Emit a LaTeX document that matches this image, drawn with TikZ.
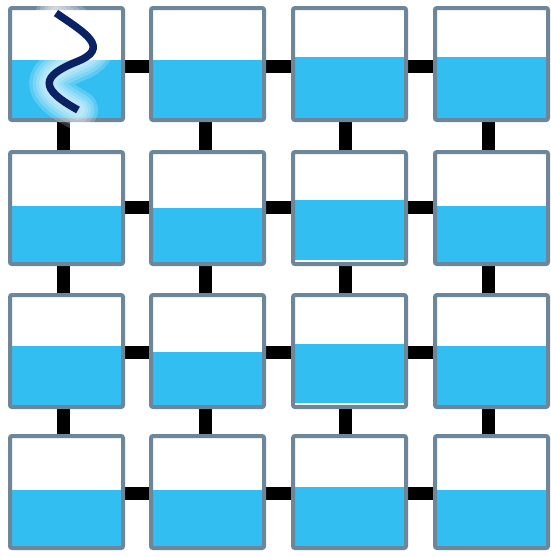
\documentclass[tikz,border=0pt]{standalone}
\usetikzlibrary{calc}
\definecolor{frame}{HTML}{6E869A}
\definecolor{water}{HTML}{33BEF2}
\definecolor{navy}{HTML}{0A2263}
\tikzset{
  tank/.style={draw=frame, line width=4pt, rounded corners=2pt, minimum width=113pt, minimum height=112pt, inner sep=0pt, fill=none},
  pipe/.style={line width=13pt, black},
  waterfill/.style={fill=water},
  glow/.style={white, line width=#1, opacity=0.2, line cap=round},
}
\begin{document}
\begin{tikzpicture}[x=1pt,y=-1pt]
\fill[white] (0,0) rectangle (550,557);
\useasboundingbox (0,0) rectangle (550,557);
% tank positions (image pixel coordinates, y downward)
\foreach \c/\x in {1/66.5,2/207.5,3/349.5,4/491.5}{
  \foreach \r/\y in {1/64,2/208,3/351,4/492}{
    \coordinate (p\r\c) at (\x,\y);
  }
}
% tanks as named nodes (borders drawn later)
\foreach \r in {1,2,3,4}{
  \foreach \c in {1,2,3,4}{
    \node[minimum width=113pt, minimum height=112pt, inner sep=0pt] (t\r\c) at (p\r\c) {};
  }
}
% horizontal pipes
\foreach \r/\dy in {1/2,2/-1,3/1,4/1}{
  \foreach \a/\b in {1/2,2/3,3/4}{
    \draw[pipe] ([yshift=-\dy pt]t\r\a.east) -- ([yshift=-\dy pt]t\r\b.west);
  }
}
% vertical pipes
\foreach \c/\dx in {1/-3.5,2/-2.5,3/-4.5,4/-3.5}{
  \foreach \a/\b in {1/2,2/3,3/4}{
    \draw[pipe] ([xshift=\dx pt]t\a\c.south) -- ([xshift=\dx pt]t\b\c.north);
  }
}
% water
\foreach \r/\c/\lvl in {1/1/60,1/2/60,1/3/57,1/4/57,
                        2/1/206,2/2/208,2/3/200,2/4/206,
                        3/1/346,3/2/352,3/3/344,3/4/346,
                        4/1/490,4/2/490,4/3/487,4/4/490}{
  \fill[waterfill] (t\r\c.west |- 0,\lvl) rectangle (t\r\c.south east);
}
% small white gaps at bottom of two tanks
\fill[white] ([xshift=2pt,yshift=2pt]t23.south west) rectangle ([xshift=-2pt,yshift=4pt]t23.south east);
\fill[white] ([xshift=2pt,yshift=2pt]t33.south west) rectangle ([xshift=-2pt,yshift=4pt]t33.south east);
% tank borders
\foreach \r in {1,2,3,4}{
  \foreach \c in {1,2,3,4}{
    \node[tank] (f\r\c) at (p\r\c) {};
  }
}
% glowing wavy line
\coordinate (w0) at (56,13);
\coordinate (w1) at (76,62);
\coordinate (w2) at (78,110);
\foreach \w in {40,33,26,20,14}{
  \draw[glow=\w pt] (w0) .. controls (85,33) and (112,48) .. (w1) .. controls (42,76) and (38,88) .. (w2);
}
\draw[navy, line width=7.5pt] (w0) .. controls (85,33) and (112,48) .. (w1) .. controls (42,76) and (38,88) .. (w2);
\end{tikzpicture}
\end{document}
